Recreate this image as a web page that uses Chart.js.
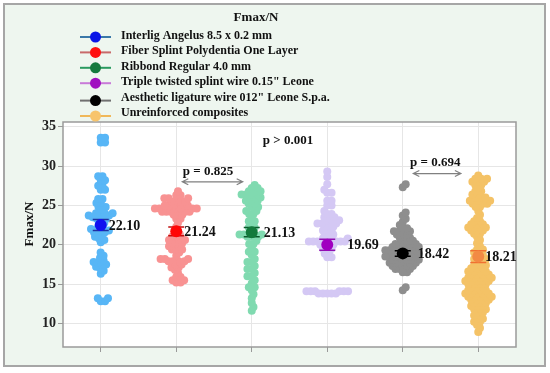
<!DOCTYPE html>
<html>
<head>
<meta charset="utf-8">
<script src="https://cdn.jsdelivr.net/npm/chart.js@4/dist/chart.umd.min.js"></script>
<style>
  html, body { margin: 0; padding: 0; background: #fff; }
  #wrap { width: 550px; height: 373px; }
</style>
</head>
<body>
<div id="wrap"><canvas id="chart" width="550" height="373"></canvas></div>
<script>
// groups, legend text
const groups = [
  "Interlig Angelus 8.5 x 0.2 mm",
  "Fiber Splint Polydentia One Layer",
  "Ribbond Regular 4.0 mm",
  "Triple twisted splint wire 0.15\" Leone",
  "Aesthetic ligature wire 012\" Leone S.p.a.",
  "Unreinforced composites"
];

// individual Fmax values per group
const interlig = [33.6,33.6,33.0,33.0,
  28.7,28.7,28.2,28.2,27.5,27.5,27.0,27.0,
  25.8,25.8,25.3,25.3,24.8,24.8,24.5,
  24.0,24.0,24.0,24.0,23.7,23.7,23.5,23.5,23.3,23.3,23.0,22.8,22.5,22.3,22.0,22.0,21.8,21.8,21.6,21.6,21.4,21.2,21.0,20.8,20.6,20.3,
  19.0,18.6,18.3,18.0,17.8,17.7,17.5,17.5,17.2,17.0,16.7,16.3,
  13.2,13.2,12.8,12.8];
const polydentia = [26.8,26.3,26.3,25.9,25.9,25.9,25.5,25.5,25.5,25.5,25.0,25.0,25.0,25.0,25.0,
  24.6,24.6,24.6,24.6,24.6,24.6,24.2,24.2,24.2,24.2,24.2,23.8,23.8,23.8,23.3,23.3,22.8,22.3,
  21.6,21.3,21.0,21.0,20.6,20.6,20.6,20.2,20.2,20.2,19.8,19.8,19.4,19.4,19.4,19.0,18.6,
  18.2,18.2,18.2,17.9,17.9,17.9,17.9,17.5,17.5,17.1,17.1,16.8,16.4,15.9,15.9,15.5,15.5,15.2,15.2];
const ribbond = [27.6,27.2,27.2,26.8,26.8,26.8,26.4,26.4,26.4,26.4,26.0,26.0,26.0,25.6,25.6,25.6,
  25.2,25.2,24.8,24.8,24.3,24.3,23.9,23.9,23.4,23.0,23.0,22.6,22.2,22.2,21.8,21.3,21.3,21.3,
  21.0,21.0,21.0,20.5,20.1,20.1,19.6,19.1,19.1,18.7,18.2,17.8,17.8,17.3,16.9,16.9,16.4,16.0,16.0,
  15.5,15.1,14.6,14.6,14.2,13.7,13.2,12.6,12.1,11.6];
const tripleWire = [29.3,28.6,27.7,27.0,26.6,26.6,25.6,25.6,25.0,25.0,24.3,23.9,23.9,23.5,23.5,
  23.1,23.1,23.1,22.7,22.7,22.7,22.3,22.3,22.3,21.8,21.8,21.8,21.3,21.3,21.3,20.8,20.8,20.8,20.8,
  20.4,20.4,20.4,20.4,20.4,20.4,20.0,20.0,20.0,20.0,19.5,19.5,19.5,18.9,18.9,18.4,18.4,
  14.1,14.1,14.1,14.1,14.1,14.1,13.8,13.8,13.8,13.8,13.8];
const aesthetic = [27.7,27.3,24.1,23.7,23.3,22.9,22.5,22.1,22.1,21.7,21.7,21.7,21.3,21.3,21.3,
  20.9,20.9,20.5,20.5,20.5,20.1,20.1,20.1,20.1,19.7,19.7,19.7,19.7,19.7,
  19.3,19.3,19.3,19.3,19.3,19.3,18.9,18.9,18.9,18.9,18.9,18.5,18.5,18.5,18.5,18.5,18.5,
  18.1,18.1,18.1,18.1,18.1,17.7,17.7,17.7,17.7,17.7,17.3,17.3,17.3,17.3,16.9,16.9,16.9,
  16.5,16.5,14.6,14.2];
const unreinforced = [28.8,28.4,28.4,28.4,28.0,28.0,28.0,27.6,27.6,27.2,26.8,26.8,26.4,26.4,
  26.0,26.0,26.0,25.6,25.6,25.6,25.2,25.2,25.2,24.8,24.8,24.3,23.8,23.4,
  23.0,23.0,22.6,22.6,22.6,22.2,22.2,22.2,22.2,21.8,21.8,21.8,21.4,21.4,21.0,20.6,20.2,19.8,
  19.4,19.4,19.0,19.0,18.6,18.6,18.2,18.2,18.2,17.8,17.8,17.4,17.4,17.4,17.0,17.0,17.0,
  16.6,16.6,16.6,16.6,16.2,16.2,16.2,16.2,15.8,15.8,15.8,15.8,15.8,15.4,15.4,15.4,15.4,15.4,
  15.0,15.0,15.0,15.0,14.6,14.6,14.6,14.2,14.2,14.2,14.2,13.8,13.8,13.8,13.8,13.8,
  13.4,13.4,13.4,13.4,13.4,13.0,13.0,13.0,13.0,12.6,12.6,12.6,12.2,12.2,12.2,
  11.8,11.8,11.8,11.4,11.4,11.0,11.0,10.6,10.6,10.2,10.2,9.8,9.4,8.9];
const groupValues = [interlig, polydentia, ribbond, tripleWire, aesthetic, unreinforced];

// mean labels, where the mean markers sit, and error half-widths
const means = [22.10, 21.24, 21.13, 19.69, 18.42, 18.21];
const meanY = [22.5, 21.7, 21.6, 20.0, 18.9, 18.5];
const errs = [0.7, 0.55, 0.6, 0.7, 0.35, 0.75];

const yTicks = [10, 15, 20, 25, 30, 35];

// p-value notes: [text, x, y], arrows: [x1, x2, y]
const pNotes = [["p > 0.001", 3.48, 33.2], ["p = 0.825", 2.42, 29.25], ["p = 0.694", 5.43, 30.45]];
const pArrows = [[2.08, 2.88, 28.0], [5.14, 5.77, 29.05]];

const dotColors = ["#58b6f6", "#f89292", "#80dab0", "#d4c8f4", "#8e8e8e", "#f4c266"];
const meanColors = ["#1010f0", "#ff0606", "#137a3c", "#a000c0", "#000000", "#f28a44"];
const errColors = ["#2030a0", "#c01010", "#0c5a2c", "#9010b0", "#000000", "#f07030"];
const legendLine = ["#3a78a8", "#c86a6a", "#2a9a60", "#c87ad8", "#707070", "#f0b85a"];
const legendDot = ["#0a14e6", "#ff1010", "#157a3e", "#a010c0", "#000000", "#f7c46c"];
// pixel gap between a mean marker and its label
const labelDx = [8, 8, 12, 20, 15, 7];

const serif = "'Liberation Serif', 'Times New Roman', serif";

const frame = {
  id: "frame",
  beforeDraw(chart) {
    const ctx = chart.ctx, a = chart.chartArea;
    ctx.save();
    ctx.fillStyle = "#ffffff";
    ctx.fillRect(0, 0, chart.width, chart.height);
    ctx.fillStyle = "#eef6ef";
    ctx.fillRect(4, 4, 541, 362);
    ctx.strokeStyle = "#a6a6a6";
    ctx.lineWidth = 2;
    ctx.strokeRect(4, 4, 541, 362);
    ctx.fillStyle = "#ffffff";
    ctx.fillRect(a.left, a.top, a.right - a.left, a.bottom - a.top);
    ctx.restore();
  },
  beforeDatasetsDraw(chart) {
    const ctx = chart.ctx, a = chart.chartArea;
    ctx.save();
    ctx.strokeStyle = "#9a9a9a";
    ctx.lineWidth = 1.5;
    ctx.strokeRect(a.left, a.top, a.right - a.left, a.bottom - a.top);
    ctx.restore();
  },
  beforeDatasetDraw(chart, args) {
    // error bar drawn just before its mean marker
    const i = args.index;
    if (i >= groups.length) return;
    const xs = chart.scales.x, ys = chart.scales.y, ctx = chart.ctx;
    const px = xs.getPixelForValue(i + 1);
    const top = ys.getPixelForValue(meanY[i] + errs[i]);
    const bot = ys.getPixelForValue(meanY[i] - errs[i]);
    ctx.save();
    ctx.strokeStyle = errColors[i];
    ctx.lineWidth = 1.5;
    ctx.beginPath();
    ctx.moveTo(px, top); ctx.lineTo(px, bot);
    ctx.moveTo(px - 8, top); ctx.lineTo(px + 8, top);
    ctx.moveTo(px - 8, bot); ctx.lineTo(px + 8, bot);
    ctx.stroke();
    ctx.restore();
  },
  afterDatasetsDraw(chart) {
    const xs = chart.scales.x, ys = chart.scales.y, ctx = chart.ctx;
    ctx.save();
    ctx.fillStyle = "#111";
    ctx.font = "bold 14px " + serif;
    ctx.textBaseline = "middle";
    ctx.textAlign = "left";
    means.forEach((m, i) => {
      ctx.fillText(m.toFixed(2), xs.getPixelForValue(i + 1) + labelDx[i], ys.getPixelForValue(meanY[i]) + 1);
    });
    ctx.font = "bold 13px " + serif;
    ctx.textAlign = "center";
    pNotes.forEach(n => {
      ctx.fillText(n[0], xs.getPixelForValue(n[1]), ys.getPixelForValue(n[2]));
    });
    ctx.strokeStyle = "#808080";
    ctx.lineWidth = 1.2;
    pArrows.forEach(r => {
      const x1 = xs.getPixelForValue(r[0]), x2 = xs.getPixelForValue(r[1]), y = ys.getPixelForValue(r[2]);
      ctx.beginPath();
      ctx.moveTo(x1, y); ctx.lineTo(x2, y);
      ctx.moveTo(x1 + 6, y - 3); ctx.lineTo(x1, y); ctx.lineTo(x1 + 6, y + 3);
      ctx.moveTo(x2 - 6, y - 3); ctx.lineTo(x2, y); ctx.lineTo(x2 - 6, y + 3);
      ctx.stroke();
    });
    ctx.restore();
  },
  afterDraw(chart) {
    const ctx = chart.ctx;
    ctx.save();
    ctx.fillStyle = "#111";
    ctx.textBaseline = "middle";
    ctx.font = "bold 13px " + serif;
    ctx.textAlign = "center";
    ctx.fillText("Fmax/N", 256, 18);
    // legend
    ctx.textAlign = "left";
    ctx.font = "bold 12px " + serif;
    groups.forEach((g, i) => {
      const y = 36 + i * 15.4;
      const my = y + (i >= 4 ? 3 : 1);
      ctx.strokeStyle = legendLine[i];
      ctx.lineWidth = 2;
      ctx.beginPath();
      ctx.moveTo(80, my); ctx.lineTo(111, my);
      ctx.stroke();
      ctx.fillStyle = legendDot[i];
      ctx.beginPath();
      ctx.arc(95.5, my, 5.5, 0, Math.PI * 2);
      ctx.fill();
      ctx.fillStyle = "#111";
      ctx.fillText(g, 121, y);
    });
    // y axis title
    ctx.translate(30, 224);
    ctx.rotate(-Math.PI / 2);
    ctx.textAlign = "center";
    ctx.font = "bold 13px " + serif;
    ctx.fillText("Fmax/N", 0, 0);
    ctx.restore();
  }
};

// mean markers first (drawn on top), then the swarms
const datasets = [];
meanY.forEach((m, i) => {
  datasets.push({
    data: [{ x: i + 1, y: m }],
    pointRadius: 6, pointBackgroundColor: meanColors[i], pointBorderWidth: 0, order: 0
  });
});
groupValues.forEach((vals, i) => {
  datasets.push({
    data: [],
    pointRadius: 4, pointBackgroundColor: dotColors[i], pointBorderWidth: 0, order: 1
  });
});

const chart = new Chart(document.getElementById("chart"), {
  type: "scatter",
  data: { datasets: datasets },
  plugins: [frame],
  options: {
    responsive: false,
    animation: false,
    events: [],
    layout: { padding: { left: 0, top: 122, right: 34, bottom: 20 } },
    plugins: { legend: { display: false }, tooltip: { enabled: false } },
    scales: {
      x: {
        type: "linear", min: 0.5, max: 6.5,
        afterBuildTicks: s => { s.ticks = groups.map((g, i) => ({ value: i + 1 })); },
        afterFit: s => { s.height = 6; },
        ticks: { display: false },
        grid: { color: "#e6e6e6", tickColor: "#9a9a9a", tickLength: 5 },
        border: { display: false }
      },
      y: {
        min: 7, max: 35.6,
        afterBuildTicks: s => { s.ticks = yTicks.map(v => ({ value: v })); },
        afterFit: s => { s.width = 63; },
        ticks: { color: "#222", font: { family: serif, size: 14, weight: "bold" }, padding: 2 },
        grid: { color: "#e6e6e6", tickColor: "#9a9a9a", tickLength: 5 },
        border: { display: false }
      }
    }
  }
});

// beeswarm layout in pixel space, from the chart's own scales
function swarm(values, center, d) {
  const xs = chart.scales.x, ys = chart.scales.y;
  const cx = xs.getPixelForValue(center);
  const placed = [];
  const sorted = values.slice().sort((a, b) => a - b);
  return sorted.map(v => {
    const py = ys.getPixelForValue(v);
    const cands = [0];
    placed.forEach(p => {
      const dy = Math.abs(p.y - py);
      if (dy < d) {
        const dx = Math.sqrt(d * d - dy * dy);
        cands.push(p.x + dx, p.x - dx);
      }
    });
    cands.sort((a, b) => Math.abs(a) - Math.abs(b));
    const best = cands.find(c => placed.every(p => (p.x - c) ** 2 + (p.y - py) ** 2 >= d * d - 0.01));
    placed.push({ x: best, y: py });
    return { x: xs.getValueForPixel(cx + best), y: v };
  });
}

groupValues.forEach((vals, i) => {
  chart.data.datasets[groups.length + i].data = swarm(vals, i + 1, 4.3);
});
chart.update();
</script>
</body>
</html>
